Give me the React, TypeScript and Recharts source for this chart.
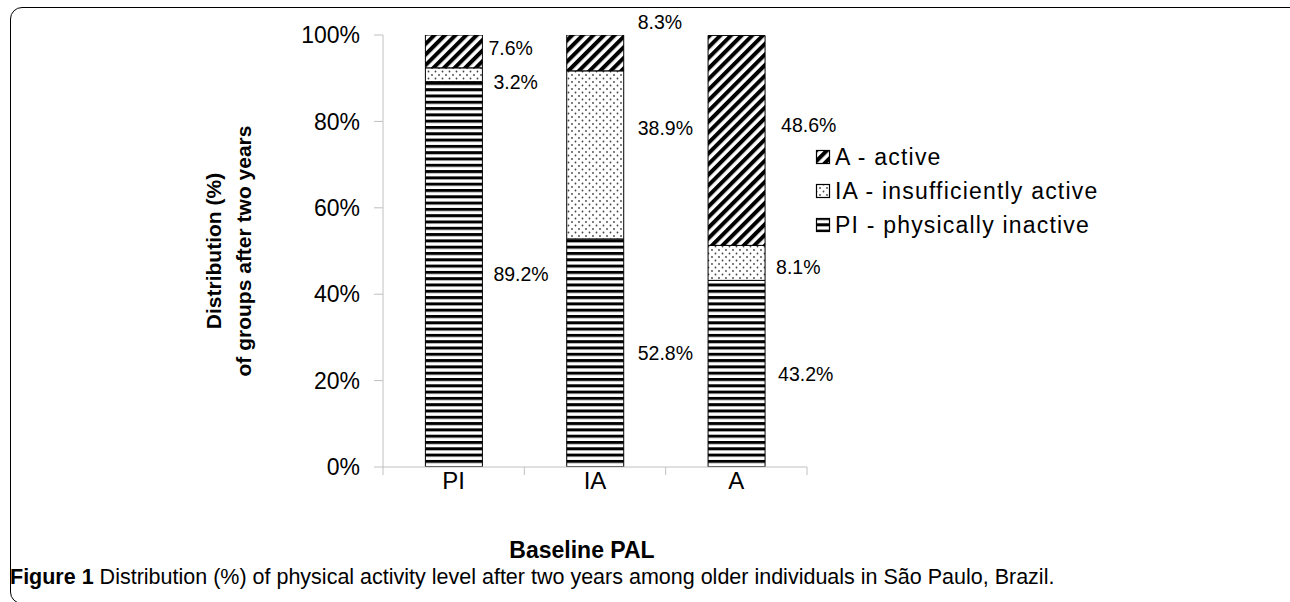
import React from 'react';
import { BarChart, Bar, XAxis, YAxis, Legend, LabelList } from 'recharts';

const categories = ['PI', 'IA', 'A'];
const piValues = [89.2, 52.8, 43.2];
const iaValues = [3.2, 38.9, 8.1];
const aValues = [7.6, 8.3, 48.6];
const yTicks = [0, 20, 40, 60, 80, 100];
const seriesNames: Record<string, string> = {
  pi: 'PI - physically inactive',
  ia: 'IA - insufficiently active',
  a: 'A - active',
};

const data = categories.map((c, i) => ({ category: c, pi: piValues[i], ia: iaValues[i], a: aValues[i] }));

// label nudges relative to the right edge / vertical centre of each segment (px)
const labelNudge: Record<string, number[][]> = {
  pi: [[11, 0], [14, 0], [13, 0]],
  ia: [[11, 7], [14, -27], [11, 4]],
  a: [[6, -3], [14, -31], [16, -15]],
};

const patternFor: Record<string, string> = { pi: 'url(#hstripes)', ia: 'url(#dots)', a: 'url(#diag)' };
const legendOrder = ['a', 'ia', 'pi'];
const FONT = '"Liberation Sans", Arial, sans-serif';
const AXIS_GRAY = '#c0c0c0';

const makeLabel = (key: string) => (props: any) => {
  const { value, index } = props;
  const vb = props.viewBox && props.viewBox.width != null ? props.viewBox : props;
  const x = Number(vb.x);
  const y = Number(vb.y);
  const w = Number(vb.width);
  const h = Number(vb.height);
  const [dx, dy] = labelNudge[key][index] || [10, 0];
  return (
    <text
      x={x + w + dx}
      y={y + h / 2 + dy}
      dominantBaseline="central"
      fontSize={19.5}
      fill="#000"
      fontFamily={FONT}
    >
      {value}%
    </text>
  );
};

const XTick = (props: any) => {
  const { x, y, payload, index, visibleTicksCount, width } = props;
  const count = visibleTicksCount || categories.length;
  const half = payload && payload.offset ? payload.offset : Number(width) / count / 2;
  return (
    <g>
      <line x1={x - half} x2={x - half} y1={y} y2={y + 8} stroke={AXIS_GRAY} />
      {index === count - 1 ? <line x1={x + half} x2={x + half} y1={y} y2={y + 8} stroke={AXIS_GRAY} /> : null}
      <text x={x} y={y + 22} textAnchor="middle" fontSize={24} fill="#000" fontFamily={FONT}>
        {payload.value}
      </text>
    </g>
  );
};

const YLabel = (props: any) => {
  const vb = props.viewBox || { x: 303, y: 35, width: 80, height: 432 };
  const cy = vb.y + vb.height / 2;
  const x1 = 213;
  const x2 = 243;
  return (
    <g>
      <text x={x1} y={cy} transform={`rotate(-90 ${x1} ${cy})`} textAnchor="middle" dominantBaseline="central" fontSize={21} fontWeight="bold" fill="#000" fontFamily={FONT}>
        Distribution (%)
      </text>
      <text x={x2} y={cy} transform={`rotate(-90 ${x2} ${cy})`} textAnchor="middle" dominantBaseline="central" fontSize={21} fontWeight="bold" fill="#000" fontFamily={FONT}>
        of groups after two years
      </text>
    </g>
  );
};

const XLabel = (props: any) => {
  const vb = props.viewBox || { x: 383, y: 467, width: 424, height: 40 };
  const cx = vb.x + vb.width / 2 - 13;
  return (
    <text x={cx} y={550} textAnchor="middle" dominantBaseline="central" fontSize={23} fontWeight="bold" fill="#000" fontFamily={FONT}>
      Baseline PAL
    </text>
  );
};

const LegendContent = (props: any) => {
  const payload = (props.payload || []) as any[];
  const sorted = legendOrder
    .map((k) => payload.find((p) => p.dataKey === k))
    .filter(Boolean);
  return (
    <div style={{ fontFamily: FONT }}>
      {sorted.map((p: any) => (
        <div key={p.dataKey} style={{ display: 'flex', alignItems: 'center', height: 34 }}>
          <svg width={17} height={17} style={{ display: 'block' }}>
            <rect x={1.5} y={1.5} width={13} height={13} fill={patternFor[p.dataKey]} stroke="#000" strokeWidth={1.2} />
          </svg>
          <span style={{ fontSize: 23, letterSpacing: 1.2, marginLeft: 3, color: '#000', whiteSpace: 'nowrap' }}>{p.value}</span>
        </div>
      ))}
    </div>
  );
};

export default function App() {
  return (
    <div style={{ position: 'absolute', left: 0, top: 0, width: 1290, height: 602, overflow: 'hidden', background: '#fff', fontFamily: FONT }}>
      <svg width={0} height={0} style={{ position: 'absolute' }}>
        <defs>
          <pattern id="hstripes" patternUnits="userSpaceOnUse" width={8} height={6.3}>
            <rect x={0} y={0} width={8} height={6.3} fill="#fff" />
            <rect x={0} y={0} width={8} height={3} fill="#000" />
          </pattern>
          <pattern id="dots" patternUnits="userSpaceOnUse" width={7} height={7}>
            <rect x={0} y={0} width={7} height={7} fill="#fff" />
            <circle cx={1.5} cy={1.5} r={0.9} fill="#444" />
            <circle cx={5} cy={5} r={0.9} fill="#444" />
          </pattern>
          <pattern id="diag" patternUnits="userSpaceOnUse" width={7.5} height={7.5} patternTransform="rotate(45)">
            <rect x={0} y={0} width={7.5} height={7.5} fill="#fff" />
            <rect x={0} y={0} width={4} height={7.5} fill="#000" />
          </pattern>
        </defs>
      </svg>
      <div
        style={{
          position: 'absolute',
          left: 10,
          top: 7,
          width: 1292,
          height: 597,
          border: '1px solid #000',
          borderRadius: 12,
          boxSizing: 'border-box',
        }}
      />
      <div style={{ position: 'absolute', left: 0, top: 0 }}>
        <BarChart
          width={1290}
          height={602}
          data={data}
          margin={{ top: 35, right: 483, left: 303, bottom: 95 }}
          barCategoryGap="30%"
        >
          <XAxis
            dataKey="category"
            height={40}
            axisLine={{ stroke: AXIS_GRAY }}
            tickLine={false}
            tickSize={0}
            tickMargin={0}
            tick={<XTick />}
            interval={0}
            label={<XLabel />}
          />
          <YAxis
            width={80}
            domain={[0, 100]}
            ticks={yTicks}
            tickFormatter={(v: number) => `${v}%`}
            axisLine={{ stroke: AXIS_GRAY }}
            tickLine={{ stroke: AXIS_GRAY }}
            tickSize={9}
            tickMargin={14}
            tick={{ fill: '#000', fontSize: 23, fontFamily: FONT }}
            label={<YLabel />}
            allowDataOverflow
          />
          <Legend
            layout="vertical"
            align="center"
            verticalAlign="middle"
            wrapperStyle={{ left: 815, top: 140, width: 360 }}
            content={<LegendContent />}
          />
          <Bar dataKey="pi" name={seriesNames.pi} stackId="s" fill="url(#hstripes)" stroke="#000" strokeWidth={1} isAnimationActive={false}>
            <LabelList dataKey="pi" content={makeLabel('pi')} />
          </Bar>
          <Bar dataKey="ia" name={seriesNames.ia} stackId="s" fill="url(#dots)" stroke="#000" strokeWidth={1} isAnimationActive={false}>
            <LabelList dataKey="ia" content={makeLabel('ia')} />
          </Bar>
          <Bar dataKey="a" name={seriesNames.a} stackId="s" fill="url(#diag)" stroke="#000" strokeWidth={1} isAnimationActive={false}>
            <LabelList dataKey="a" content={makeLabel('a')} />
          </Bar>
        </BarChart>
      </div>
      <div
        style={{
          position: 'absolute',
          left: 10,
          top: 565,
          fontSize: 21.5,
          lineHeight: '24px',
          fontFamily: FONT,
          color: '#000',
          whiteSpace: 'nowrap',
        }}
      >
        <b>Figure 1</b> Distribution (%) of physical activity level after two years among older individuals in São Paulo, Brazil.
      </div>
    </div>
  );
}
